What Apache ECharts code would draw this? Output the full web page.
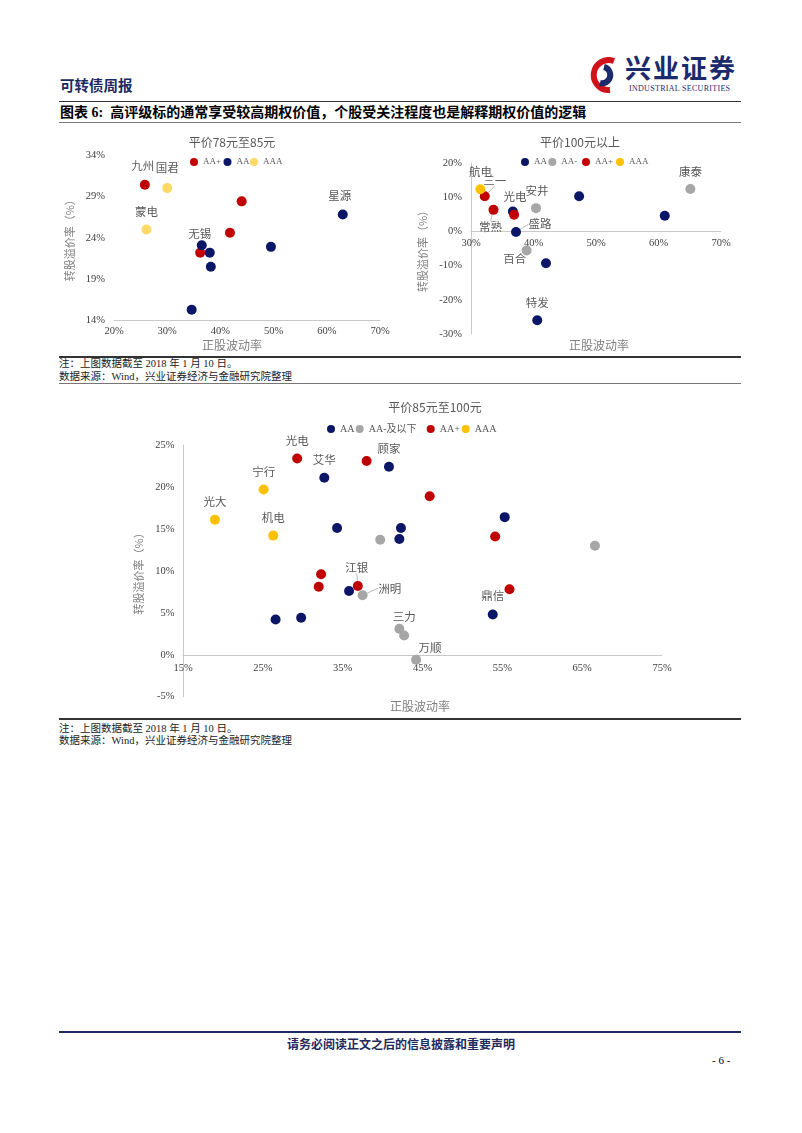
<!DOCTYPE html>
<html>
<head>
<meta charset="utf-8">
<title>图表6</title>
<script src="https://cdn.jsdelivr.net/npm/echarts@6.0.0/dist/echarts.min.js"></script>
<style>
html,body{margin:0;padding:0;background:#fff;}
#page{position:relative;width:802px;height:1133px;overflow:hidden;background:#fff;font-family:"Liberation Serif","Noto Sans CJK SC",serif;color:#000;}
.t{position:absolute;white-space:nowrap;}
.hl{position:absolute;left:59px;width:682px;}
.chart{position:absolute;}
</style>
</head>
<body>
<div id="page">
  <div class="t" style="left:60px;top:78px;font-size:14.5px;line-height:17px;font-weight:bold;color:#1B2A63;">可转债周报</div>
  <svg class="t" style="left:588px;top:57px" width="34" height="36" viewBox="0 0 34 36">
    <path d="M26 4 A15 15 0 1 0 22 33" stroke="#D0121B" stroke-width="6" fill="none"/>
    <path d="M16 10 A8 8 0 1 1 12 26" stroke="#1B2A6B" stroke-width="6" fill="none"/>
  </svg>
  <div class="t" style="left:625px;top:55px;font-size:26px;line-height:29px;font-weight:bold;color:#1B2A6B;letter-spacing:2px;">兴业证券</div>
  <div class="t" style="left:629px;top:84px;font-size:8px;line-height:9px;color:#1B2A6B;letter-spacing:0.3px;">INDUSTRIAL SECURITIES</div>
  <div class="hl" style="top:101px;height:1px;background:#333;"></div>
  <div class="t" style="left:60px;top:105px;font-size:14px;line-height:16px;font-weight:bold;">图表 6:&nbsp;&nbsp;高评级标的通常享受较高期权价值，个股受关注程度也是解释期权价值的逻辑</div>
  <div class="hl" style="top:122px;height:1px;background:#777;"></div>

  <div id="c1" class="chart" style="left:0;top:127px;width:400px;height:228px;"></div>
  <div id="c2" class="chart" style="left:400px;top:127px;width:402px;height:228px;"></div>

  <div class="hl" style="top:356px;height:1.5px;background:#333;"></div>
  <div class="t" style="left:59px;top:358px;font-size:10.5px;line-height:12px;color:#222;">注：上图数据截至 2018 年 1 月 10 日。</div>
  <div class="t" style="left:59px;top:371px;font-size:10.5px;line-height:12px;color:#222;">数据来源：Wind，兴业证券经济与金融研究院整理</div>
  <div class="hl" style="top:383px;height:1px;background:#777;"></div>

  <div id="c3" class="chart" style="left:0;top:384px;width:802px;height:334px;"></div>

  <div class="hl" style="top:718px;height:1.5px;background:#333;"></div>
  <div class="t" style="left:59px;top:723px;font-size:10.5px;line-height:12px;color:#222;">注：上图数据截至 2018 年 1 月 10 日。</div>
  <div class="t" style="left:59px;top:735px;font-size:10.5px;line-height:12px;color:#222;">数据来源：Wind，兴业证券经济与金融研究院整理</div>

  <div class="hl" style="top:1031px;height:2px;background:#1F2A5E;"></div>
  <div class="t" style="left:0;width:802px;text-align:center;top:1038px;font-size:12px;line-height:14px;font-weight:bold;color:#1F2A5E;">请务必阅读正文之后的信息披露和重要声明</div>
  <div class="t" style="left:712px;top:1054px;font-size:11px;line-height:13px;color:#000;">- 6 -</div>
</div>
<script>
// ---------------- Chart 1: 平价78元至85元 ----------------
const c1_xTicks = [20, 30, 40, 50, 60, 70];
const c1_yTicks = [14, 19, 24, 29, 34];
const c1_AAplus_x = [25.8, 44.0, 41.8, 36.2];
const c1_AAplus_y = [30.4, 28.4, 24.6, 22.2];
const c1_AAplus_name = ['九州', '', '', ''];
const c1_AA_x = [63.0, 49.5, 36.5, 38.0, 38.2, 34.6];
const c1_AA_y = [26.8, 22.9, 23.1, 22.2, 20.5, 15.3];
const c1_AA_name = ['星源', '', '无锡', '', '', ''];
const c1_AAA_x = [30.0, 26.1];
const c1_AAA_y = [30.0, 25.0];
const c1_AAA_name = ['国君', '蒙电'];

// ---------------- Chart 2: 平价100元以上 ----------------
const c2_xTicks = [30, 40, 50, 60, 70];
const c2_yTicks = [-30, -20, -10, 0, 10, 20];
const c2_AA_x = [36.7, 37.2, 42.0, 40.6, 47.3, 61.0];
const c2_AA_y = [5.8, -0.2, -9.3, -26.0, 10.3, 4.6];
const c2_AA_name = ['光电', '盛路', '', '特发', '', ''];
const c2_AAminus_x = [40.4, 38.9, 65.1];
const c2_AAminus_y = [6.8, -5.6, 12.4];
const c2_AAminus_name = ['安井', '百合', '康泰'];
const c2_AAplus_x = [32.2, 33.6, 36.9];
const c2_AAplus_y = [10.3, 6.3, 4.9];
const c2_AAplus_name = ['三一', '常熟', ''];
const c2_AAA_x = [31.5];
const c2_AAA_y = [12.3];
const c2_AAA_name = ['航电'];

// ---------------- Chart 3: 平价85元至100元 ----------------
const c3_xTicks = [15, 25, 35, 45, 55, 65, 75];
const c3_yTicks = [-5, 0, 5, 10, 15, 20, 25];
const c3_AA_x = [32.7, 40.8, 34.3, 42.3, 42.1, 55.3, 35.8, 53.8, 26.6, 29.8];
const c3_AA_y = [21.1, 22.4, 15.1, 15.1, 13.8, 16.4, 7.6, 4.8, 4.2, 4.4];
const c3_AA_name = ['艾华', '顾家', '', '', '', '', '', '鼎信', '', ''];
const c3_AAminus_x = [39.7, 66.6, 37.5, 42.1, 42.7, 44.2];
const c3_AAminus_y = [13.7, 13.0, 7.1, 3.1, 2.3, -0.6];
const c3_AAminus_name = ['', '', '洲明', '三力', '', '万顺'];
const c3_AAplus_x = [29.3, 38.0, 45.9, 54.1, 32.3, 32.0, 36.9, 55.9];
const c3_AAplus_y = [23.4, 23.1, 18.9, 14.1, 9.6, 8.1, 8.2, 7.8];
const c3_AAplus_name = ['光电', '', '', '', '', '', '江银', ''];
const c3_AAA_x = [25.1, 19.0, 26.3];
const c3_AAA_y = [19.7, 16.1, 14.2];
const c3_AAA_name = ['宁行', '光大', '机电'];

// ---------------- label / legend placement (styling, kept apart from data) ----------------
const c1_labelOffsets = {'九州': [-2, -19], '星源': [-3, -19], '无锡': [-2, -12], '国君': [0, -20], '蒙电': [0, -18]};
const c2_labelOffsets = {'光电': [2, -15], '盛路': [24, -8], '特发': [0, -18], '安井': [1, -18], '百合': [-12, 8], '康泰': [0, -17], '三一': [10, -16], '常熟': [-3, 17], '航电': [0, -18]};
const c3_labelOffsets = {'艾华': [0, -18], '顾家': [0, -18], '鼎信': [0, -19], '洲明': [27, -7], '三力': [5, -12], '万顺': [14, -12], '光电': [0, -18], '江银': [-1, -18], '宁行': [0, -18], '光大': [0, -18], '机电': [0, -18]};
const c2_leaders = ['三一', '常熟', '盛路'];
const c3_leaders = ['江银', '洲明'];
const c1_legendNames = ['AA+', 'AA', 'AAA'];
const c1_legendX = [194, 227.5, 254];
const c2_legendNames = ['AA', 'AA-', 'AA+', 'AAA'];
const c2_legendX = [125, 152.3, 186, 220];
const c3_legendNames = ['AA', 'AA-及以下', 'AA+', 'AAA'];
const c3_legendX = [331, 359.7, 430.7, 465.7];

const NAVY = '#0B1766', RED = '#C00000', GRAY = '#A6A6A6', YEL = '#FFC000', LYEL = '#FFD966';
const SERIF = '"Liberation Serif", "Noto Sans CJK SC", serif';
const CJK = '"Noto Sans CJK SC", sans-serif';
const AXIS_LINE = '#C9C9C9';

function scatterSeries(name, color, xs, ys, names, size, offsets, leaders) {
  return {
    name: name, type: 'scatter', symbolSize: size,
    itemStyle: {color: color, opacity: 1},
    emphasis: {disabled: true},
    data: xs.map(function (x, i) {
      const item = {value: [x, ys[i]], name: names[i]};
      if (names[i]) {
        item.label = {show: true};
        if (leaders && leaders.indexOf(names[i]) >= 0) item.labelLine = {show: true};
      }
      return item;
    }),
    label: {show: false, position: 'inside', formatter: '{b}', color: '#595959', fontSize: 11.5, fontFamily: CJK},
    labelLine: {show: false, lineStyle: {color: '#A6A6A6', width: 0.8}},
    labelLayout: function (p) {
      const o = offsets[names[p.dataIndex]];
      return o ? {dx: o[0], dy: o[1]} : {};
    }
  };
}

function textEl(x, y, text, size, color) {
  return {type: 'text', x: x, y: y, silent: true,
    style: {text: text, fill: color || '#595959', font: size + 'px ' + CJK,
      align: 'center', verticalAlign: 'middle', textAlign: 'center', textVerticalAlign: 'middle'}};
}

// x axis placed at y = 0 (label row follows the line), via offset computed from the y scale
function xAxisOpt(min, max, ticks, margin, ymin, ymax, gridH) {
  const zeroShift = (ymin < 0 && ymax > 0) ? -gridH * (0 - ymin) / (ymax - ymin) : 0;
  return {type: 'value', min: min, max: max, offset: zeroShift,
    axisLine: {show: true, onZero: false, lineStyle: {color: AXIS_LINE, width: 1}},
    axisTick: {show: false}, splitLine: {show: false},
    axisLabel: {customValues: ticks, formatter: '{value}%', margin: margin, color: '#404040', fontSize: 10.5, fontFamily: SERIF}};
}
function yAxisOpt(min, max, ticks, margin, showLine, gap) {
  return {type: 'value', min: min, max: max,
    axisLine: {show: showLine, onZero: false, lineStyle: {color: AXIS_LINE, width: 1}},
    axisTick: {show: false}, splitLine: {show: false},
    axisLabel: {customValues: ticks, formatter: '{value}%', margin: margin, color: '#404040', fontSize: 10.5, fontFamily: SERIF},
    name: '转股溢价率（%）', nameLocation: 'middle', nameGap: gap,
    nameTextStyle: {color: '#7F7F7F', fontSize: 11, fontFamily: CJK}};
}
function legends(names, xs, cy, size) {
  return names.map(function (n, i) {
    return {left: xs[i] - 4, top: cy - 6, padding: 0, icon: 'circle', itemWidth: 8, itemHeight: 8,
      data: [n], selectedMode: false,
      textStyle: {color: '#595959', fontSize: size, fontFamily: SERIF, lineHeight: 12}};
  });
}

// Chart 1
const ch1 = echarts.init(document.getElementById('c1'));
ch1.setOption({
  animation: false,
  graphic: [textEl(232, 15, '平价78元至85元', 12), textEl(232, 218, '正股波动率', 12, '#7F7F7F')],
  legend: legends(c1_legendNames, c1_legendX, 35, 9),
  grid: {left: 114, top: 28, width: 266, height: 165.5},
  xAxis: xAxisOpt(20, 70, c1_xTicks, 6, 14, 34, 165.5),
  yAxis: yAxisOpt(14, 34, c1_yTicks, 9, false, 30),
  series: [
    scatterSeries('AA+', RED, c1_AAplus_x, c1_AAplus_y, c1_AAplus_name, 10, c1_labelOffsets),
    scatterSeries('AA', NAVY, c1_AA_x, c1_AA_y, c1_AA_name, 10, c1_labelOffsets),
    scatterSeries('AAA', LYEL, c1_AAA_x, c1_AAA_y, c1_AAA_name, 10, c1_labelOffsets)
  ]
});

// Chart 2
const ch2 = echarts.init(document.getElementById('c2'));
ch2.setOption({
  animation: false,
  graphic: [textEl(180, 15, '平价100元以上', 12), textEl(199, 218, '正股波动率', 12, '#7F7F7F')],
  legend: legends(c2_legendNames, c2_legendX, 35, 9),
  grid: {left: 71, top: 36, width: 250, height: 171},
  xAxis: xAxisOpt(30, 70, c2_xTicks, 7, -30, 20, 171),
  yAxis: yAxisOpt(-30, 20, c2_yTicks, 9, true, 37),
  series: [
    scatterSeries('AA', NAVY, c2_AA_x, c2_AA_y, c2_AA_name, 10, c2_labelOffsets, c2_leaders),
    scatterSeries('AA-', GRAY, c2_AAminus_x, c2_AAminus_y, c2_AAminus_name, 10, c2_labelOffsets, c2_leaders),
    scatterSeries('AA+', RED, c2_AAplus_x, c2_AAplus_y, c2_AAplus_name, 10, c2_labelOffsets, c2_leaders),
    scatterSeries('AAA', YEL, c2_AAA_x, c2_AAA_y, c2_AAA_name, 10, c2_labelOffsets, c2_leaders)
  ]
});

// Chart 3
const ch3 = echarts.init(document.getElementById('c3'));
ch3.setOption({
  animation: false,
  graphic: [textEl(435, 23, '平价85元至100元', 12), textEl(420, 322, '正股波动率', 12, '#7F7F7F')],
  legend: legends(c3_legendNames, c3_legendX, 45, 10),
  grid: {left: 183, top: 61, width: 479, height: 251.7},
  xAxis: xAxisOpt(15, 75, c3_xTicks, 8, -5, 25, 251.7),
  yAxis: yAxisOpt(-5, 25, c3_yTicks, 8.5, true, 30),
  series: [
    scatterSeries('AA', NAVY, c3_AA_x, c3_AA_y, c3_AA_name, 10, c3_labelOffsets, c3_leaders),
    scatterSeries('AA-及以下', GRAY, c3_AAminus_x, c3_AAminus_y, c3_AAminus_name, 10, c3_labelOffsets, c3_leaders),
    scatterSeries('AA+', RED, c3_AAplus_x, c3_AAplus_y, c3_AAplus_name, 10, c3_labelOffsets, c3_leaders),
    scatterSeries('AAA', YEL, c3_AAA_x, c3_AAA_y, c3_AAA_name, 10, c3_labelOffsets, c3_leaders)
  ]
});
</script>
</body>
</html>
